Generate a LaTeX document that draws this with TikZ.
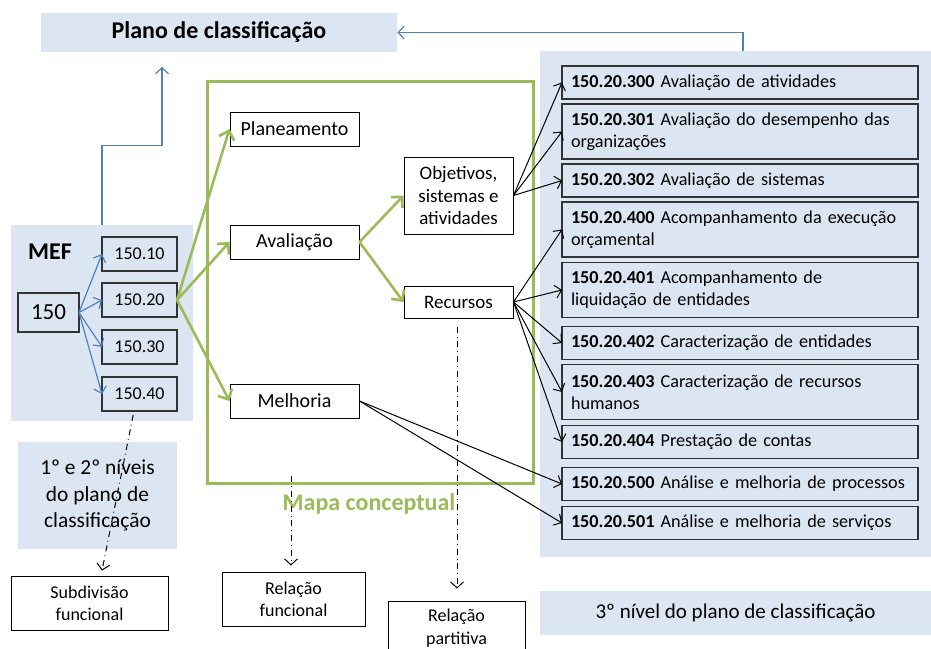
\documentclass[tikz,border=0pt]{standalone}
\usepackage{fontspec}
\setmainfont{Carlito}
\usetikzlibrary{positioning,arrows.meta}
\definecolor{areacolor}{RGB}{220,230,242}
\definecolor{linkcolor}{RGB}{79,129,189}
\definecolor{mapcolor}{RGB}{155,187,89}
\hyphenpenalty=10000

\begin{document}
\begin{tikzpicture}[
    x=0.5pt, y=-0.5pt,
    node distance=2.5pt,
    >={Straight Barb[length=3pt,width=6.5pt]},
    every node/.style={font=\fontsize{10}{12}\selectfont},
    areafill/.style={rectangle, fill=areacolor, inner sep=0pt},
    box/.style={rectangle, draw=black, line width=0.5pt, align=center, inner sep=1pt},
    codebox/.style={rectangle, draw=black!80, line width=0.7pt, outer sep=0pt, minimum width=37.5pt, minimum height=17pt, font=\fontsize{9}{11}\selectfont},
    entrybox/.style={rectangle, draw=black!80, line width=0.7pt, outer sep=0pt, text width=169pt, inner xsep=4.5pt, inner ysep=1pt, minimum height=16.5pt, align=left, font=\fontsize{9.1}{11}\selectfont},
    twoline/.style={minimum height=27.5pt},
    arrow/.style={->, line width=0.5pt},
    bluearrow/.style={->, draw=linkcolor, line width=0.6pt},
    greenarrow/.style={-{Straight Barb[length=4pt,width=8pt]}, draw=mapcolor, line width=1.3pt},
    relarrow/.style={->, dash dot, line width=0.5pt}
]
\useasboundingbox (0,0) rectangle (931,648);

% Shaded areas
\node[areafill, minimum width=178pt, minimum height=19.5pt, font=\bfseries\fontsize{12}{14}\selectfont] (plano) at (219,32.5) {Plano de classificação};
\node[areafill, minimum width=91pt, minimum height=98pt] (mef) at (102,323) {};
\node[areafill, minimum width=79.5pt, minimum height=53.5pt, align=center, font=\fontsize{10.7}{13.25}\selectfont] (niveis) at (97.5,495.5) {1º e 2º níveis\\do plano de\\classificação};
\node[areafill, minimum width=195.5pt, minimum height=253pt] (terceiro) at (735.5,304) {};
\node[areafill, minimum width=195.5pt, minimum height=22pt, font=\fontsize{10.5}{12}\selectfont] (nivel) at (735.5,613) {3º nível do plano de classificação};

% Conceptual map frame
\node[draw=mapcolor, line width=1.5pt, minimum width=163pt, minimum height=201pt] (mapa) at (370,282) {};
\node[font=\bfseries\fontsize{12}{14}\selectfont, text=mapcolor] (mapalabel) at (369,504) {Mapa conceptual};

% MEF codes
\node[font=\bfseries\fontsize{12}{14}\selectfont] (meflabel) at (50,252) {MEF};
\node[codebox, minimum width=30.5pt, minimum height=19.5pt, font=\fontsize{11.5}{13}\selectfont] (c150) at (48.5,312.5) {150};
\node[codebox] (c10) at (139.5,254) {150.10};
\node[codebox, below=6pt of c10] (c20) {150.20};
\node[codebox, below=6.5pt of c20] (c30) {150.30};
\node[codebox, below=6.5pt of c30] (c40) {150.40};

% Functions inside the map
\node[box, minimum width=64.5pt, minimum height=17pt] (plan) at (294.5,129) {Planeamento};
\node[box, minimum width=64.5pt, minimum height=17pt] (aval) at (294.5,242) {Avaliação};
\node[box, minimum width=64.5pt, minimum height=17pt] (melh) at (294.5,401) {Melhoria};
\node[box, minimum width=54.5pt, minimum height=38.5pt, font=\fontsize{9.5}{11.25}\selectfont] (obj) at (458.5,195.5) {Objetivos,\\sistemas e\\atividades};
\node[box, minimum width=54.5pt, minimum height=16pt, font=\fontsize{9.5}{11.25}\selectfont] (rec) at (458.5,302) {Recursos};

% Relation labels
\node[box, minimum width=78.5pt, minimum height=27pt, font=\fontsize{9}{11}\selectfont] (subdiv) at (89.5,603) {Subdivisão\\funcional};
\node[box, minimum width=71.5pt, minimum height=27pt, font=\fontsize{9}{11}\selectfont] (relfunc) at (293.5,599) {Relação\\funcional};
\node[box, minimum width=68.5pt, minimum height=27pt, font=\fontsize{9}{11.5}\selectfont] (relpart) at (456.5,628) {Relação\\partitiva};

% Third level entries
\node[entrybox] (e300) at (740,82.5) {\textbf{150.20.300} Avaliação de atividades};
\node[entrybox, twoline, below=of e300] (e301) {\textbf{150.20.301} Avaliação do desempenho das\\organizações};
\node[entrybox, below=of e301] (e302) {\textbf{150.20.302} Avaliação de sistemas};
\node[entrybox, twoline, below=of e302] (e400) {\textbf{150.20.400} Acompanhamento da execução\\orçamental};
\node[entrybox, twoline, below=2.75pt of e400] (e401) {\textbf{150.20.401} Acompanhamento de\\liquidação de entidades};
\node[entrybox, below=4.5pt of e401] (e402) {\textbf{150.20.402} Caracterização de entidades};
\node[entrybox, twoline, below=of e402] (e403) {\textbf{150.20.403} Caracterização de recursos\\humanos};
\node[entrybox, below=3pt of e403] (e404) {\textbf{150.20.404} Prestação de contas};
\node[entrybox, below=4.5pt of e404] (e500) {\textbf{150.20.500} Análise e melhoria de processos};
\node[entrybox, below=3pt of e500] (e501) {\textbf{150.20.501} Análise e melhoria de serviços};

% Arrows
\coordinate (up) at (162,67);
\draw[bluearrow] (mef.north) -- ++(0,-79) -| (up);
\draw[bluearrow] ([xshift=3.75pt]terceiro.north) |- (plano.east);
\draw[bluearrow] (c150.east) -- (c10.west);
\draw[bluearrow] (c150.east) -- (c20.west);
\draw[bluearrow] (c150.east) -- (c30.west);
\draw[bluearrow] (c150.east) -- (c40.west);
\draw[greenarrow] (c20.east) -- (plan.west);
\draw[greenarrow] (c20.east) -- (aval.west);
\draw[greenarrow] (c20.east) -- (melh.west);
\draw[greenarrow] (aval.east) -- (obj.west);
\draw[greenarrow] (aval.east) -- (rec.west);
\draw[arrow] (obj.east) -- (e300.west);
\draw[arrow] (obj.east) -- (e301.west);
\draw[arrow] (obj.east) -- (e302.west);
\draw[arrow] (rec.east) -- (e400.west);
\draw[arrow] (rec.east) -- (e401.west);
\draw[arrow] (rec.east) -- (e402.west);
\draw[arrow] (rec.east) -- (e403.west);
\draw[arrow] (rec.east) -- (e404.west);
\draw[arrow] (melh.east) -- (e500.west);
\draw[arrow] (melh.east) -- (e501.west);
% Relations, dash-dotted
\coordinate (funcstart) at (291,476);
\draw[relarrow, shorten <=2pt, shorten >=2.5pt] ([xshift=-2.75pt]c40.south) -- ([xshift=5.75pt]subdiv.north);
\draw[relarrow, shorten >=3pt] (funcstart) -- (funcstart |- relfunc.north);
\draw[relarrow, shorten <=4pt, shorten >=6pt] ([xshift=-0.75pt]rec.south) -- ([xshift=-0.75pt]rec.south |- relpart.north);

\end{tikzpicture}
\end{document}
